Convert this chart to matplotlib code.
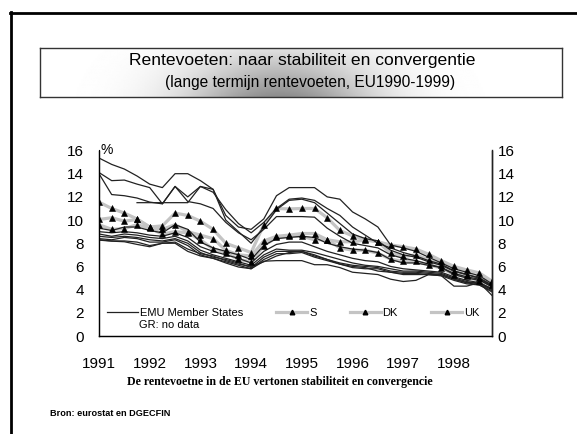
import numpy as np
import matplotlib
matplotlib.use("Agg")
import matplotlib.pyplot as plt
from matplotlib.lines import Line2D

plt.rcParams['font.family'] = ['Liberation Sans', 'DejaVu Sans']

# ---- data (quarterly, 1991Q1 .. 1998Q4) ----
years = ["1991", "1992", "1993", "1994", "1995", "1996", "1997", "1998"]
nan = np.nan
emu_p = [15.35,14.8,14.4,13.8,13.1,12.8,14.0,14.0,13.4,12.65,10.4,9.4,9.2,10.1,12.1,12.8,12.8,12.8,12.0,11.8,10.7,10.1,9.4,7.85,7.6,7.3,6.8,6.3,5.8,5.5,5.2,4.5]
emu_i = [14.1,13.4,13.45,13.1,12.8,11.4,12.9,12.0,12.9,12.4,10.9,9.7,8.9,9.8,11.0,11.8,11.9,11.7,11.0,10.4,9.4,8.7,8.0,7.6,7.2,6.9,6.5,6.2,5.6,5.3,5.0,4.3]
emu_e = [14.0,12.2,12.1,11.9,11.55,11.4,12.9,11.6,11.4,11.0,9.8,8.9,8.3,9.2,10.3,10.3,10.3,10.25,9.3,8.6,8.0,7.8,7.6,7.0,6.7,6.5,6.2,5.9,5.4,5.1,4.9,4.2]
emu_fin = [nan,nan,nan,11.5,11.5,11.5,11.5,11.5,12.9,12.65,10.0,9.0,8.0,9.4,10.9,11.7,11.8,11.5,10.6,9.7,8.8,8.4,8.2,7.4,7.0,6.8,6.4,6.1,5.6,5.3,5.0,4.4]
emu_irl = [9.3,9.1,9.4,9.4,9.1,8.9,9.6,9.2,8.1,7.6,7.3,7.0,6.6,7.8,8.4,8.5,8.6,8.5,8.0,7.7,7.5,7.4,7.2,6.6,6.3,6.3,6.1,5.9,5.3,5.0,4.8,4.3]
emu_b = [9.0,8.9,9.0,8.9,8.7,8.6,8.9,8.5,7.7,7.3,7.0,6.7,6.3,7.3,7.9,8.1,8.1,7.7,7.3,7.0,6.7,6.5,6.4,6.0,5.8,5.7,5.6,5.5,5.1,4.8,4.6,4.1]
emu_f = [8.8,8.6,8.8,8.7,8.5,8.4,8.6,8.2,7.4,7.0,6.7,6.4,6.1,7.0,7.5,7.4,7.4,7.2,6.9,6.6,6.3,6.1,6.0,5.8,5.6,5.6,5.5,5.4,5.0,4.7,4.5,4.0]
emu_a = [8.6,8.5,8.6,8.5,8.3,8.2,8.4,8.0,7.2,6.8,6.6,6.3,5.9,6.8,7.3,7.3,7.3,7.0,6.6,6.3,6.1,6.0,5.9,5.6,5.5,5.5,5.4,5.3,4.9,4.6,4.4,3.9]
emu_nl = [8.4,8.3,8.5,8.4,8.1,8.1,8.3,7.8,7.0,6.7,6.4,6.1,5.8,6.6,7.1,7.1,7.2,6.8,6.5,6.2,5.9,5.8,5.8,5.5,5.4,5.4,5.3,5.2,4.8,4.5,4.4,3.8]
emu_d = [8.27,8.18,8.13,7.9,7.7,8.0,8.0,7.3,6.9,6.7,6.3,5.95,5.8,6.45,6.5,6.5,6.5,6.15,6.15,5.9,5.5,5.4,5.3,4.9,4.7,4.8,5.3,5.2,4.3,4.3,4.6,3.5]
emu_l = [8.3,8.2,8.2,8.1,7.8,8.0,8.1,7.5,7.1,6.9,6.5,6.2,6.0,6.4,6.9,7.2,7.3,6.9,6.6,6.2,6.0,5.9,5.6,5.5,5.3,5.3,5.3,5.3,4.9,4.6,4.6,4.0]
s_vals = [11.55,11.0,10.6,10.1,9.4,9.5,10.6,10.4,9.9,9.2,8.0,7.6,7.2,9.6,11.0,10.96,11.0,11.0,10.2,9.1,8.64,8.35,8.13,7.85,7.7,7.5,7.05,6.5,6.0,5.7,5.44,4.73]
dk_vals = [10.05,10.2,9.9,10.05,9.4,9.2,9.6,9.0,8.7,8.4,7.4,7.0,6.9,8.2,8.6,8.7,8.84,8.84,8.3,8.13,8.13,8.27,8.13,7.14,6.86,7.0,6.57,6.14,5.58,5.3,5.0,4.67]
uk_vals = [9.6,9.2,9.26,9.6,9.3,8.8,9.0,8.9,8.3,7.5,7.2,6.6,6.4,7.8,8.5,8.6,8.6,8.3,8.3,7.6,7.4,7.4,7.14,6.63,6.43,6.43,6.14,5.86,5.3,5.15,4.73,4.44]

emu_series = [emu_p, emu_i, emu_e, emu_fin, emu_irl, emu_b, emu_f, emu_a, emu_nl, emu_d, emu_l]
gray_series = [("S", s_vals), ("DK", dk_vals), ("UK", uk_vals)]
yticks = [0, 2, 4, 6, 8, 10, 12, 14, 16]

W, H = 577, 434
fig = plt.figure(figsize=(W / 100, H / 100), dpi=100)
fig.patch.set_facecolor("white")

def fx(px):
    return px / W

def fy(py):
    return 1 - py / H

# slide frame
fig.add_artist(Line2D([fx(10), fx(577)], [fy(13), fy(13)], color="black", lw=2.0))
fig.add_artist(Line2D([fx(11), fx(11)], [fy(12), fy(434)], color="black", lw=2.0))

# title box with gradient
tax = fig.add_axes([fx(40), fy(97), fx(562) - fx(40), fy(48) - fy(97)])
gx = np.linspace(-1, 1, 300)
gy = np.linspace(0, 1, 60)
GX, GY = np.meshgrid(gx, gy)
shade = 1 - 0.45 * np.exp(-((GX + 0.08) / 0.36) ** 2) * (1.0 - 0.75 * GY)
tax.imshow(shade, cmap="gray", vmin=0, vmax=1, aspect="auto", origin="lower",
           extent=[0, 1, 0, 1])
tax.set_xticks([]); tax.set_yticks([])
for sp in tax.spines.values():
    sp.set_color("#333333"); sp.set_linewidth(1.0)
fig.text(fx(302), fy(61), "Rentevoeten: naar stabiliteit en convergentie",
         ha="center", va="center", fontsize=12.6, color="black")
fig.text(fx(310), fy(83), "(lange termijn rentevoeten, EU1990-1999)",
         ha="center", va="center", fontsize=11.2, color="black")

# main chart
ax = fig.add_axes([fx(99), fy(336), fx(492) - fx(99), fy(150.5) - fy(336)])
x = np.arange(len(s_vals))
for name, vals in gray_series:
    ax.plot(x, vals, color="#c4c4c4", lw=2.3, zorder=2, solid_joinstyle="round")
for vals in emu_series:
    ax.plot(x, vals, color="#222222", lw=0.9, zorder=3)
for name, vals in gray_series:
    ax.plot(x, vals, ls="none", marker="^", ms=4.6, mfc="black", mec="black",
            mew=0.4, zorder=4)

ax.set_xlim(0, len(s_vals) - 1)
ax.set_ylim(0, 16)
ax.set_xticks(np.arange(0, len(s_vals), 4)[:len(years)])
ax.set_xticklabels(years, fontsize=11)
ax.set_yticks(yticks)
ax.set_yticklabels([str(v) for v in yticks], fontsize=11)
ax.tick_params(axis="both", length=0)
ax.tick_params(axis="y", pad=11)
ax.tick_params(axis="x", pad=15)
ax.spines["top"].set_visible(False)
for s in ["left", "right", "bottom"]:
    ax.spines[s].set_linewidth(1.0)
    ax.spines[s].set_color("#222222")

ax2 = ax.twinx()
ax2.set_ylim(0, 16)
ax2.set_yticks(yticks)
ax2.set_yticklabels([str(v) for v in yticks], fontsize=11)
ax2.tick_params(axis="y", length=0, pad=4)
ax2.spines["top"].set_visible(False)
ax2.spines["right"].set_linewidth(1.0)
ax2.spines["right"].set_color("#222222")

ax.text(0.003, 1.0, "%", transform=ax.transAxes, ha="left", va="center", fontsize=10)

# legend
handles = [Line2D([], [], color="#222222", lw=0.9)]
labels = ["EMU Member States"]
for name, vals in gray_series:
    handles.append(Line2D([], [], color="#c4c4c4", lw=2.3, marker="^", ms=3.3,
                          mfc="black", mec="black"))
    labels.append(name)
leg = ax.legend(handles, labels, ncol=4, frameon=False, fontsize=8,
                loc="center left", bbox_to_anchor=(0.02, 0.125),
                handlelength=2.8, handletextpad=0.15, columnspacing=3.0,
                borderpad=0, borderaxespad=0)
ax.text(fx(139), fy(325), "GR: no data", transform=fig.transFigure,
        ha="left", va="center", fontsize=8)

fig.text(fx(280), fy(382), "De rentevoetne in de EU vertonen stabiliteit en convergencie",
         ha="center", va="center", fontsize=8.6, fontweight="bold",
         family=["Liberation Serif", "DejaVu Serif"])
fig.text(fx(50), fy(413), "Bron: eurostat en DGECFIN", ha="left", va="center",
         fontsize=6.6, fontweight="bold")

fig.savefig("out.png", dpi=100, facecolor="white")
